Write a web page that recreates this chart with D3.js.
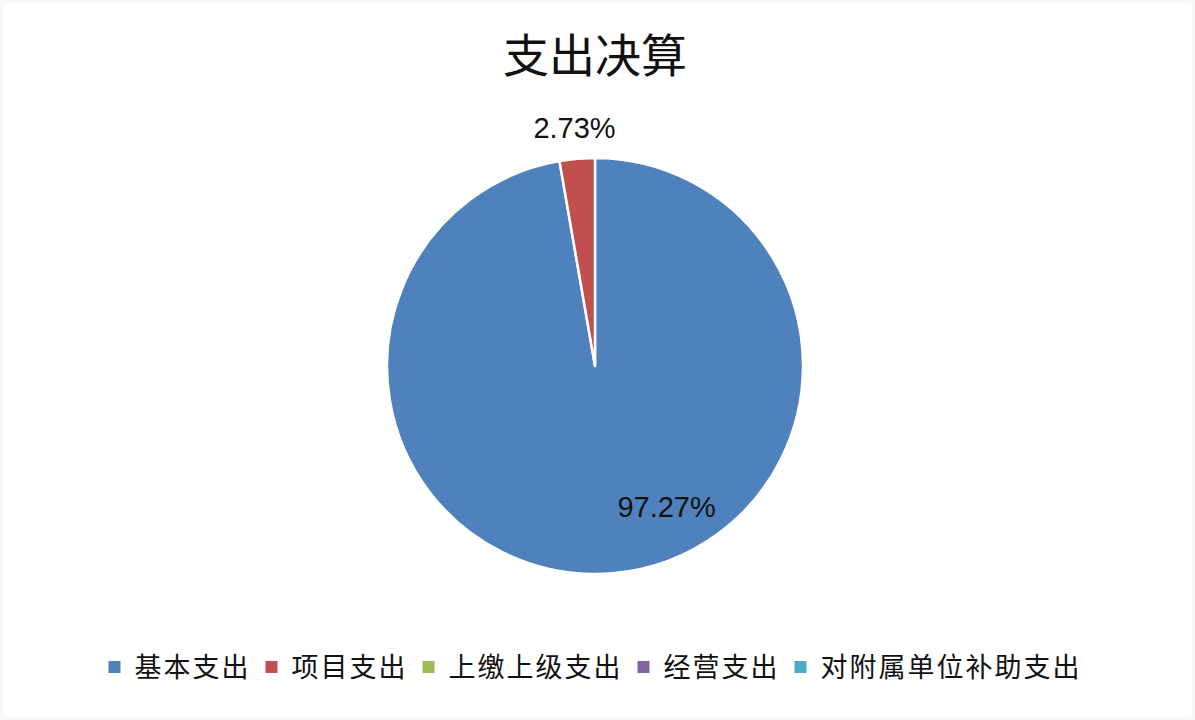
<!DOCTYPE html>
<html>
<head>
<meta charset="utf-8">
<script src="https://cdn.jsdelivr.net/npm/d3@7"></script>
<style>
  html, body { margin: 0; padding: 0; background: #f7f7f7; }
  #chart { width: 1195px; height: 720px; }
</style>
</head>
<body>
<div id="chart"></div>
<script>
// 支出决算 - share of each expense type
const categories = ['基本支出', '项目支出', '上缴上级支出', '经营支出', '对附属单位补助支出'];
const values = [97.27, 2.73, 0, 0, 0];
const colors = ['#4F81BD', '#C0504D', '#9BBB59', '#8064A2', '#4BACC6'];
const title = '支出决算';

const width = 1195;
const height = 720;
const cx = 595;
const cy = 366;
const radius = 208;

const svg = d3.select('#chart').append('svg')
  .attr('width', width)
  .attr('height', height);

// white chart area with faint frame
svg.append('rect')
  .attr('x', 3).attr('y', 3)
  .attr('width', width - 6).attr('height', height - 6)
  .attr('rx', 4)
  .attr('fill', '#fff');

svg.append('text')
  .attr('x', cx)
  .attr('y', 72)
  .attr('text-anchor', 'middle')
  .style('font-family', '"Noto Sans CJK SC", sans-serif')
  .style('font-size', '46px')
  .style('fill', '#111')
  .text(title);

const data = categories.map((c, i) => ({ name: c, value: values[i], color: colors[i] }));

const pie = d3.pie()
  .value(d => d.value)
  .sort(null);

const arc = d3.arc()
  .innerRadius(0)
  .outerRadius(radius);

const g = svg.append('g')
  .attr('transform', 'translate(' + cx + ',' + cy + ')');

const slices = pie(data).filter(d => d.data.value > 0);

g.selectAll('path')
  .data(slices)
  .enter()
  .append('path')
  .attr('d', arc)
  .attr('fill', d => d.data.color)
  .attr('stroke', '#fff')
  .attr('stroke-width', 2.5)
  .attr('stroke-linejoin', 'round');

// labels: small slices go outside, the big one sits inside lower right
const total = d3.sum(values);
g.selectAll('text.lbl')
  .data(slices)
  .enter()
  .append('text')
  .attr('class', 'lbl')
  .attr('transform', d => {
    const mid = (d.startAngle + d.endAngle) / 2;
    let a, r;
    if (d.data.value / total < 0.1) {
      a = mid; r = radius + 31;
    } else {
      a = mid - 22 * Math.PI / 180; r = radius * 0.76;
    }
    return 'translate(' + (Math.sin(a) * r) + ',' + (-Math.cos(a) * r) + ')';
  })
  .attr('text-anchor', 'middle')
  .attr('dy', '0.36em')
  .style('font-family', '"Liberation Sans", Arial, sans-serif')
  .style('font-size', '29px')
  .style('fill', '#111')
  .text(d => d.data.value.toFixed(2) + '%');

// legend
const legend = svg.append('g');
const items = legend.selectAll('g')
  .data(data)
  .enter()
  .append('g');

items.append('rect')
  .attr('width', 12)
  .attr('height', 12)
  .attr('y', -6)
  .attr('fill', d => d.color);

items.append('text')
  .attr('x', 26)
  .attr('dy', '0.36em')
  .style('font-family', '"Noto Sans CJK SC", sans-serif')
  .style('font-size', '27px')
  .style('letter-spacing', '2px')
  .style('fill', '#111')
  .text(d => d.name);

let xPos = 0;
items.each(function () {
  const w = d3.select(this).select('text').node().getComputedTextLength();
  d3.select(this).attr('transform', 'translate(' + xPos + ',0)');
  xPos += 26 + w + 15;
});
const legendWidth = xPos - 15;
legend.attr('transform', 'translate(' + (cx - legendWidth / 2) + ',667)');
</script>
</body>
</html>
